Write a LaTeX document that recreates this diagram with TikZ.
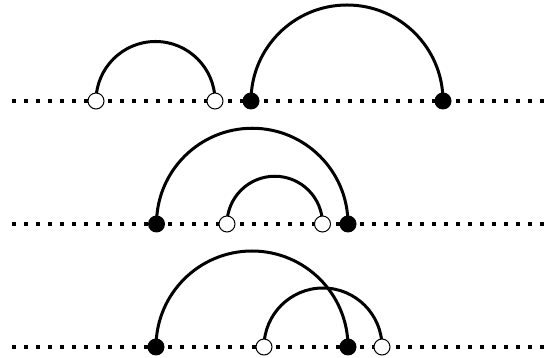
\documentclass[tikz,border=0pt]{standalone}
\usetikzlibrary{calc,backgrounds}
\definecolor{ink}{HTML}{000000}

\begin{document}
\begin{tikzpicture}[
  x=1pt, y=1pt,
  track/.style={draw=ink, line width=4pt, dash pattern=on 4pt off 8pt},
  chord/.style={draw=ink, line width=3pt},
  opendot/.style={circle, draw=ink, line width=1pt, fill=white,
    minimum size=16pt, inner sep=0pt},
  fulldot/.style={circle, fill=ink, minimum size=17pt, inner sep=0pt}
]
  \useasboundingbox (0,0) rectangle (544,358);
  % first row
  \coordinate (w1) at (12,257);
  \coordinate (e1) at (544,257);
  \node[opendot] (a1) at (96,257) {};
  \node[opendot] (b1) at (215,257) {};
  \node[fulldot] (c1) at (251,257) {};
  \node[fulldot] (d1) at (443,257) {};
  % second row
  \coordinate (w2) at (12,134);
  \coordinate (e2) at (544,134);
  \node[fulldot] (a2) at (156.5,134) {};
  \node[opendot] (b2) at (227,134) {};
  \node[opendot] (c2) at (322.5,134) {};
  \node[fulldot] (d2) at (348,134) {};
  % third row
  \coordinate (w3) at (12,11);
  \coordinate (e3) at (544,11);
  \node[fulldot] (a3) at (156,11) {};
  \node[opendot] (b3) at (264,11) {};
  \node[fulldot] (c3) at (348,11) {};
  \node[opendot] (d3) at (382,11) {};
  \begin{scope}[on background layer]
    \draw[track] (w1) -- (e1);
    \draw[track] (w2) -- (e2);
    \draw[track] (w3) -- (e3);
    \draw[chord] let \p1=($(b1)-(a1)$) in
      (a1.center) arc[start angle=180, end angle=0, radius=0.5*\x1];
    \draw[chord] let \p1=($(d1)-(c1)$) in
      (c1.center) arc[start angle=180, end angle=0, radius=0.5*\x1];
    \draw[chord] let \p1=($(d2)-(a2)$) in
      (a2.center) arc[start angle=180, end angle=0, radius=0.5*\x1];
    \draw[chord] let \p1=($(c2)-(b2)$) in
      (b2.center) arc[start angle=180, end angle=0, radius=0.5*\x1];
    \draw[chord] let \p1=($(c3)-(a3)$) in
      (a3.center) arc[start angle=180, end angle=0, radius=0.5*\x1];
    \draw[chord] let \p1=($(d3)-(b3)$) in
      (b3.center) arc[start angle=180, end angle=0, radius=0.5*\x1];
  \end{scope}
\end{tikzpicture}
\end{document}
